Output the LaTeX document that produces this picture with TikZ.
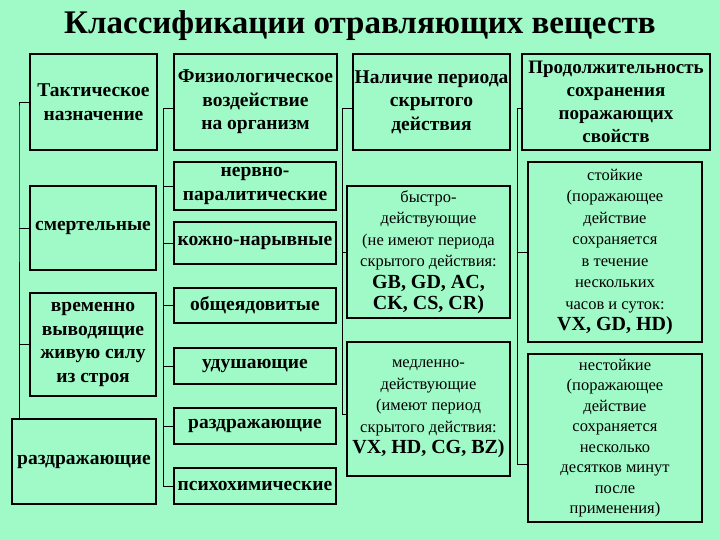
\documentclass[tikz,border=0pt]{standalone}
\usepackage{fontspec}
\setmainfont{Liberation Serif}
\begin{document}
\begin{tikzpicture}[x=1pt,y=-1pt,
 bx/.style={draw=black,line width=1.6pt,align=center,inner sep=0pt,font=\bfseries\fontsize{19.5}{23.5}\selectfont},
 rg/.style={bx,font=\fontsize{16.5}{21.5}\selectfont},
 hd/.style={bx,line width=2.6pt},
 br/.style={line width=0.8pt}]
\fill[fill={rgb,255:red,160;green,250;blue,200}] (0,0) rectangle (720,540);
\useasboundingbox (0,0) rectangle (720,540);
\node[font=\bfseries\fontsize{33}{38}\selectfont] (t) at (360,26) {Классификации отравляющих веществ};
% col1
\node[hd,minimum width=127,minimum height=96] (h1) at (93.5,102) {Тактическое\\назначение};
\node[bx,minimum width=126,minimum height=84] (a1) at (93,228) {смертельные};
\node[bx,minimum width=126,minimum height=103] (a2) at (93,344.5) {временно\\выводящие\\живую силу\\из строя};
\node[bx,minimum width=144,minimum height=85] (a3) at (84,461.5) {раздражающие};
\coordinate (c1t) at (19,108); \coordinate (c1b) at (19,419);
\draw[br] (h1.west) -| (c1t) -- (c1b) -- (c1b-|a3.north);
\draw[br] (a1.west) -- (a1.west-|c1t);
\draw[br] (a2.west) -- (a2.west-|c1t);
% col2
\node[hd,minimum width=163,minimum height=96] (h2) at (255.5,102) {Физиологическое\\воздействие\\на организм};
\node[bx,minimum width=162,minimum height=48] (b1) at (255,186) {нервно-\\паралитические};
\node[bx,minimum width=162,minimum height=42] (b2) at (255,243) {кожно-нарывные};
\node[bx,minimum width=162,minimum height=35] (b3) at (255,305.5) {общеядовитые};
\node[bx,minimum width=162,minimum height=36] (b4) at (255,366) {удушающие};
\node[bx,minimum width=162,minimum height=36] (b5) at (255,426) {раздражающие};
\node[bx,minimum width=162,minimum height=36] (b6) at (255,486) {психохимические};
\coordinate (c2t) at (163,108);
\draw[br] (h2.west|-c2t) -- (c2t) |- (b6.west);
\foreach \n in {b1,b2,b3,b4,b5} \draw[br] (\n.west) -- (\n.west-|c2t);
% col3
\node[hd,minimum width=157,minimum height=96] (h3) at (431.5,102) {Наличие периода\\скрытого\\действия};
\node[rg,minimum width=163,minimum height=132] (d1) at (428.5,252) {быстро-\\действующие\\(не имеют периода\\скрытого действия:\\{\bfseries\fontsize{20}{24}\selectfont GB, GD, AC,}\\{\bfseries\fontsize{20}{24}\selectfont CK, CS, CR)}};
\node[rg,minimum width=163,minimum height=134] (d2) at (428.5,409) {медленно-\\действующие\\(имеют период\\скрытого действия:\\{\bfseries\fontsize{20}{24}\selectfont VX, HD, CG, BZ)}};
\coordinate (c3t) at (342,108); \coordinate (c3b) at (342,414);
\draw[br] (h3.west|-c3t) -- (c3t) -- (c3b) -- (c3b-|d2.west);
\draw[br] (d1.west) -- (d1.west-|c3t);
% col4
\node[hd,minimum width=188,minimum height=96,font=\bfseries\fontsize{19}{23}\selectfont] (h4) at (616,102) {Продолжительность\\сохранения\\поражающих\\свойств};
\node[rg,minimum width=174,minimum height=180] (e1) at (615,252) {стойкие\\(поражающее\\действие\\сохраняется\\в течение\\нескольких\\часов и суток:\\{\bfseries\fontsize{20}{24}\selectfont VX, GD, HD)}};
\node[rg,minimum width=174,minimum height=168,font=\fontsize{16.5}{20.5}\selectfont] (e2) at (615,438) {нестойкие\\(поражающее\\действие\\сохраняется\\несколько\\десятков минут\\после\\применения)};
\coordinate (c4t) at (517,108); \coordinate (c4b) at (517,464);
\draw[br] (h4.west|-c4t) -- (c4t) -- (c4b) -- (c4b-|e2.west);
\draw[br] (e1.west) -- (e1.west-|c4t);
\end{tikzpicture}
\end{document}
